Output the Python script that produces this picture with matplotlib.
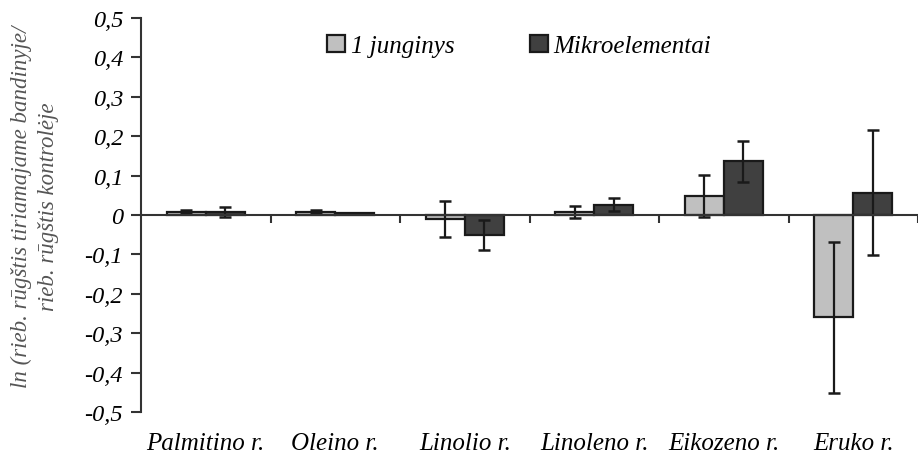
import numpy as np
import matplotlib
matplotlib.use("Agg")
import matplotlib.pyplot as plt
from matplotlib.transforms import blended_transform_factory

plt.rcParams['font.family'] = 'serif'
plt.rcParams['font.serif'] = ['Liberation Serif']
plt.rcParams['font.style'] = 'italic'

categories = ["Palmitino r.", "Oleino r.", "Linolio r.", "Linoleno r.", "Eikozeno r.", "Eruko r."]
junginys = [0.008, 0.008, -0.010, 0.007, 0.048, -0.260]
junginys_err = [0.004, 0.004, 0.045, 0.015, 0.053, 0.192]
mikro = [0.008, 0.004, -0.050, 0.026, 0.137, 0.057]
mikro_err = [0.013, 0.000, 0.038, 0.017, 0.052, 0.158]
yticks = [-0.5, -0.4, -0.3, -0.2, -0.1, 0, 0.1, 0.2, 0.3, 0.4, 0.5]

fig = plt.figure(figsize=(9.18, 4.6), dpi=100)
ax = fig.add_axes([141/918, 47/460, 777/918, 394/460])

x = np.arange(len(categories))
w = 0.3
err_kw = dict(ecolor="#1a1a1a", elinewidth=1.6, capsize=4.5, capthick=1.8)
ax.bar(x - w/2, junginys, w, color="#c0c0c0", edgecolor="#1a1a1a", linewidth=1.6,
       yerr=junginys_err, error_kw=err_kw, label="1 junginys", zorder=2)
ax.bar(x + w/2, mikro, w, color="#404040", edgecolor="#1a1a1a", linewidth=1.6,
       yerr=mikro_err, error_kw=err_kw, label="Mikroelementai", zorder=2)

ax.set_xlim(-0.5, 5.42)
ax.set_ylim(-0.5, 0.5)

for s in ["top", "right"]:
    ax.spines[s].set_visible(False)
ax.spines["bottom"].set_position(("data", 0))
ax.spines["bottom"].set_zorder(3)
ax.spines["bottom"].set_linewidth(1.5)
ax.spines["left"].set_linewidth(1.5)
ax.spines["bottom"].set_color("#333333")
ax.spines["left"].set_color("#333333")

ax.set_xticks(np.arange(len(categories)) + 0.5)
ax.set_xticklabels([])
ax.tick_params(axis="x", direction="out", length=6, width=1.5, color="#333333")
ax.set_yticks(yticks)
ax.set_yticklabels(["0" if v == 0 else ("%.1f" % v).replace(".", ",") for v in yticks],
                   fontsize=17.5)
ax.tick_params(axis="y", direction="out", length=7, width=1.5, color="#333333", pad=6)

trans = blended_transform_factory(ax.transData, fig.transFigure)
for i, c in enumerate(categories):
    ax.text(i, 0.035, c, transform=trans, ha="center", va="center", fontsize=18)

fig.text(0.038, 0.55, "ln (rieb. rūgštis tiriamajame bandinyje/\nrieb. rūgštis kontrolėje",
         rotation=90, ha="center", va="center", fontsize=16.5, color="#555555",
         linespacing=1.4)

leg = ax.legend(loc="upper left", bbox_to_anchor=(0.21, 1.015), ncol=2, frameon=False,
                fontsize=18, handlelength=0.72, handleheight=0.72, handletextpad=0.25,
                columnspacing=3.0)

fig.savefig("out.png", dpi=100)
